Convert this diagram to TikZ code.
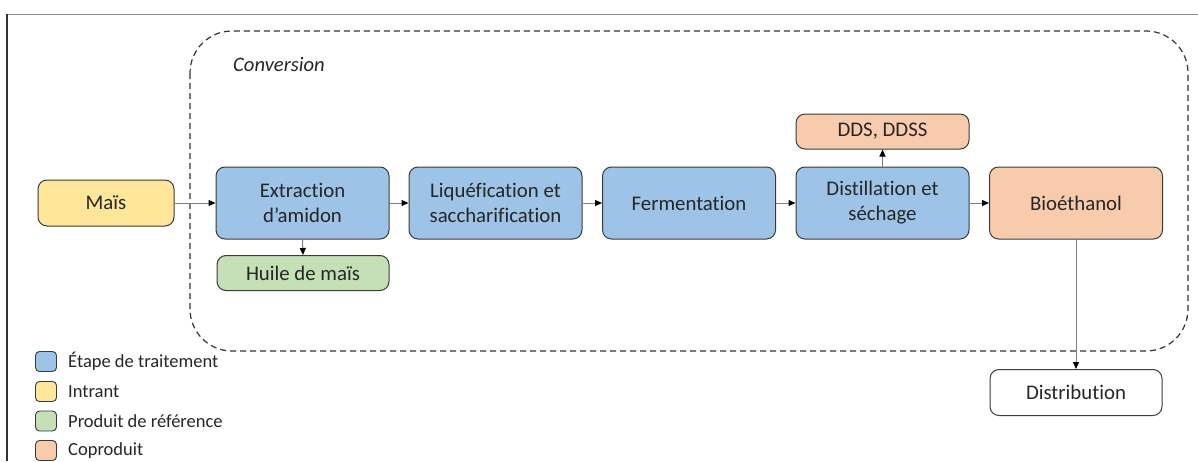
\documentclass[tikz,border=0pt]{standalone}
\usepackage{fontspec}
\setmainfont{Carlito}[Ligatures=NoCommon]
\usetikzlibrary{arrows.meta}
\definecolor{stepblue}{HTML}{9DC3E6}
\definecolor{inputyellow}{HTML}{FFE699}
\definecolor{refgreen}{HTML}{C5E0B4}
\definecolor{coorange}{HTML}{F8CBAD}
\definecolor{boxline}{HTML}{3A3A3A}
\definecolor{flowline}{HTML}{808080}
\definecolor{textgray}{HTML}{262626}
\begin{document}
\begin{tikzpicture}[x=1pt,y=-1pt,
  box/.style={draw=boxline, line width=1pt, rounded corners=9pt, align=center,
    font=\fontsize{20.8}{25}\selectfont, text=textgray, inner sep=0pt},
  bigbox/.style={box, minimum width=173pt, minimum height=72pt},
  smallbox/.style={box, minimum width=172pt, minimum height=35pt},
  legbox/.style={draw=boxline, line width=0.9pt, rounded corners=4pt, minimum width=21pt, minimum height=20pt, inner sep=0pt},
  legtext/.style={anchor=west, font=\fontsize{18.5}{22}\selectfont, text=textgray, inner sep=0pt},
  flow/.style={draw=flowline, line width=1pt, -{Triangle[length=7pt,width=6pt,fill=black,color=black]}}
]
\useasboundingbox (0,0) rectangle (1198,461);
% page frame
\draw[draw=black!45, line width=1pt] (7,14) -- (1198,14);
\draw[draw=black!80, line width=1.2pt] (7,14) -- (7,461);

% conversion area
\draw[dashed, dash pattern=on 6pt off 4pt, line width=1.2pt, draw=black!80, rounded corners=42pt]
  (190,31) rectangle (1188,351);
\node[anchor=west, font=\fontsize{20.6}{24}\selectfont\itshape, text=textgray, inner sep=0pt] (conv) at (233,64) {Conversion};

% process chain
\node[box, fill=inputyellow, minimum width=136pt, minimum height=46pt] (mais) at (106,203) {Maïs};
\node[bigbox, fill=stepblue] (extr) at (302.5,203) {Extraction\\d’amidon};
\node[smallbox, fill=refgreen] (huile) at (303,273) {Huile de maïs};
\node[bigbox, fill=stepblue] (liq) at (495.5,203) {Liquéfication et\\saccharification};
\node[bigbox, fill=stepblue] (ferm) at (689,203) {Fermentation};
\node[bigbox, fill=stepblue] (dist) at (882.5,203) {Distillation et\\séchage};
\node[smallbox, fill=coorange, minimum width=173pt] (dds) at (882.5,131.5) {DDS, DDSS};
\node[bigbox, fill=coorange] (bio) at (1076,203) {Bioéthanol};
\node[box, fill=white, minimum width=172pt, minimum height=46pt] (distr) at (1076,392.5) {Distribution};

\draw[flow] (mais) -- (extr);
\draw[flow] (extr) -- (liq);
\draw[flow] (liq) -- (ferm);
\draw[flow] (ferm) -- (dist);
\draw[flow] (dist) -- (bio);
\draw[flow] (extr.south) -- (huile.north);
\draw[flow] (dist.north) -- (dds.south);
\draw[flow] (bio.south) -- (distr.north);

% legend
\node[legbox, fill=stepblue] (l1) at (46,361.5) {};
\node[legbox, fill=inputyellow] (l2) at (46,391.5) {};
\node[legbox, fill=refgreen] (l3) at (46,421) {};
\node[legbox, fill=coorange] (l4) at (46,450.5) {};
\node[legtext] (t1) at (68,361.5) {Étape de traitement};
\node[legtext] (t2) at (68,391.5) {Intrant};
\node[legtext] (t3) at (68,421) {Produit de référence};
\node[legtext] (t4) at (68,450.5) {Coproduit};
\end{tikzpicture}
\end{document}
